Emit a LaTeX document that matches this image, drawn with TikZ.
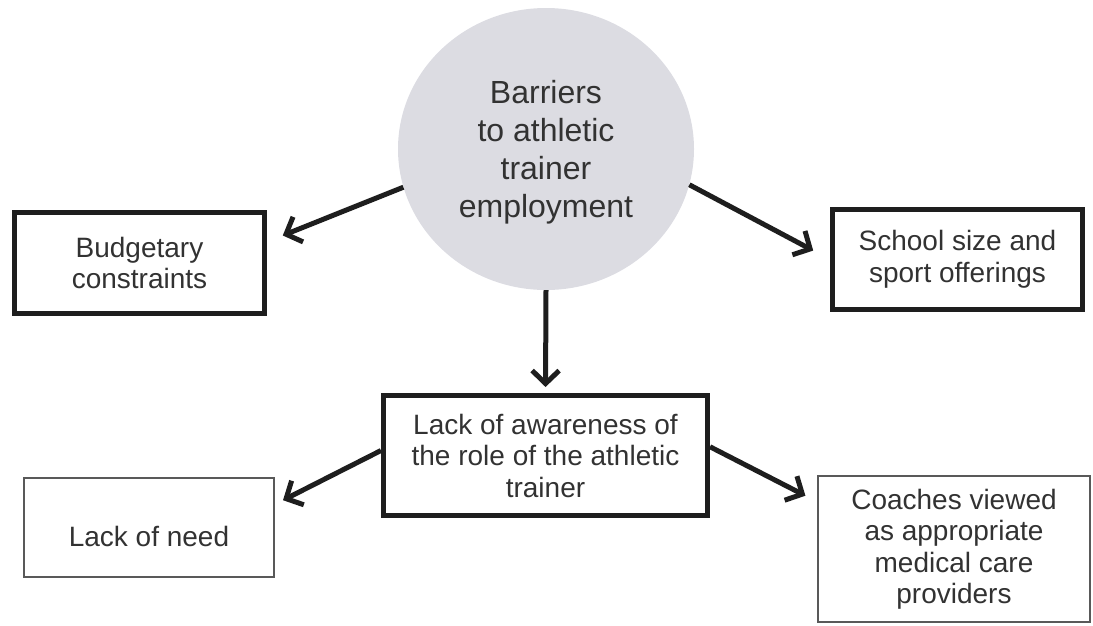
\documentclass[tikz,border=0pt]{standalone}
\usepackage{fontspec}
\setmainfont{Liberation Sans}
\usetikzlibrary{shapes.geometric,arrows.meta,calc}
\definecolor{hubfill}{RGB}{220,220,226}
\definecolor{ink}{RGB}{30,30,30}
\definecolor{txt}{RGB}{50,50,50}
\begin{document}
\begin{tikzpicture}[x=1pt,y=-1pt,
  hub/.style={ellipse, fill=hubfill, minimum width=296pt, minimum height=282pt,
    inner sep=0pt, align=center, text=txt, font=\fontsize{32}{38}\selectfont},
  boldbox/.style={draw=ink, line width=5pt, inner sep=0pt, align=center, text=txt,
    font=\fontsize{28}{31.5}\selectfont, minimum width=250pt, minimum height=101pt},
  thinbox/.style={boldbox, draw=gray!70!black, line width=2pt},
  link/.style={draw=ink, line width=5pt, -{Straight Barb[length=13pt,width=27pt]}},
]
\useasboundingbox (0,0) rectangle (1093,625);

% central topic
\node[hub] (hub) at (546,149)
  {\raisebox{-4pt}[\height][\depth]{\begin{tabular}{@{}c@{}}Barriers\\to athletic\\trainer\\employment\end{tabular}}};

% first-level barriers
\node[boldbox] (budget) at (139.5,263) {Budgetary\\constraints};
\node[boldbox, minimum height=100pt] (school) at (957.5,259.5) {School size and\\sport offerings};
\node[boldbox, minimum width=324pt, minimum height=120pt] (aware) at (545.5,455.5)
  {Lack of awareness of\\the role of the athletic\\trainer};

% consequences of the lack of awareness
\node[thinbox, minimum height=99pt] (need) at (149,527.5)
  {\raisebox{-9pt}[\height][\depth]{Lack of need}};
\node[thinbox, minimum width=272pt, minimum height=146pt] (coach) at (954,549)
  {Coaches viewed\\as appropriate\\medical care\\providers};

% connectors
\draw[link, shorten >=17pt] (hub.195) -- ($(budget.north east)!0.3!(budget.south east)$);
\draw[link, shorten >=19pt] (hub.346) -- (school.west);
\draw[link, shorten >=6pt] (hub.south) -- (aware.north);
\draw[link, shorten >=9pt] ($(aware.north west)!0.46!(aware.south west)$)
  -- ($(need.north east)!0.27!(need.south east)$);
\draw[link, shorten >=13pt] ($(aware.north east)!0.43!(aware.south east)$)
  -- ($(coach.north west)!0.18!(coach.south west)$);
\end{tikzpicture}
\end{document}
